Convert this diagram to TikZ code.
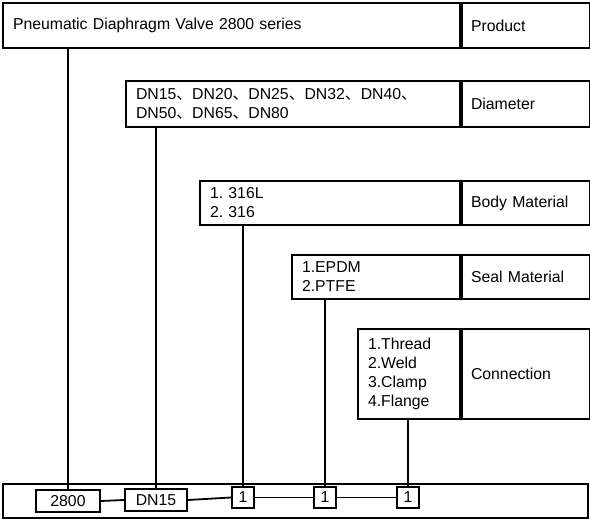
\documentclass[tikz,border=0pt]{standalone}
\usepackage{fontspec}
\setmainfont{Liberation Sans}
\newfontfamily\cjk{Noto Sans CJK SC}
\usetikzlibrary{positioning}
\newcommand{\dun}{{\cjk 、}}
\frenchspacing

\begin{document}
\begin{tikzpicture}[x=1pt,y=-1pt,
    optbox/.style={draw,line width=2pt,anchor=north west,inner xsep=10pt,inner ysep=0pt,align=left,font=\fontsize{15.8}{19}\selectfont},
    labbox/.style={optbox,inner xsep=9pt,text width=110pt,anchor=north west},
    codebox/.style={draw,line width=2pt,inner sep=0pt,minimum height=22pt,font=\fontsize{15.8}{19}\selectfont},
    link/.style={line width=1.8pt}]
    \useasboundingbox (0,0) rectangle (590,521);

    \node [optbox,text width=437pt,minimum height=45pt] (prod) at (2,2) {Pneumatic Diaphragm Valve 2800 series};
    \node [labbox,minimum height=45pt] (prodlab) at (prod.north east) {Product};

    \node [optbox,text width=314pt,minimum height=46pt] (dia) at (125,80) {DN15\dun DN20\dun DN25\dun DN32\dun DN40\dun\\DN50\dun DN65\dun DN80};
    \node [labbox,minimum height=46pt] (dialab) at (dia.north east) {Diameter};

    \node [optbox,text width=240pt,minimum height=44pt] (body) at (199,180) {1. 316L\\2. 316};
    \node [labbox,minimum height=44pt] (bodylab) at (body.north east) {Body Material};

    \node [optbox,text width=148pt,minimum height=44pt] (seal) at (291,254) {1.EPDM\\2.PTFE};
    \node [labbox,minimum height=44pt] (seallab) at (seal.north east) {Seal Material};

    \node [optbox,text width=82pt,minimum height=90pt] (conn) at (357,328) {1.Thread\\2.Weld\\3.Clamp\\4.Flange};
    \node [labbox,minimum height=90pt] (connlab) at (conn.north east) {Connection};

    \node [optbox,minimum width=585pt,minimum height=34pt] (bar) at (2,483) {};

    \node [codebox,minimum width=64pt] (c2800) at (68,501) {2800};
    \node [codebox,minimum width=62pt] (cdn) at (156,500) {DN15};
    \node [codebox,minimum width=22pt,minimum height=21pt] (cbody) at (243,497.5) {1};
    \node [codebox,minimum width=22pt,minimum height=21pt] (cseal) at (325,497.5) {1};
    \node [codebox,minimum width=22pt,minimum height=21pt] (cconn) at (408,497.5) {1};

    \draw [link] (c2800.north) -- (c2800.north |- prod.south);
    \draw [link] (cdn.north) -- (cdn.north |- dia.south);
    \draw [link] (cbody.north) -- (cbody.north |- body.south);
    \draw [link] (cseal.north) -- (cseal.north |- seal.south);
    \draw [link] (cconn.north) -- (cconn.north |- conn.south);

    \draw [link] (c2800.east) -- (cdn.west);
    \draw [link] (cdn.east) -- (cbody.west);
    \draw [link] (cbody.east) -- (cseal.west);
    \draw [link] (cseal.east) -- (cconn.west);
\end{tikzpicture}
\end{document}
